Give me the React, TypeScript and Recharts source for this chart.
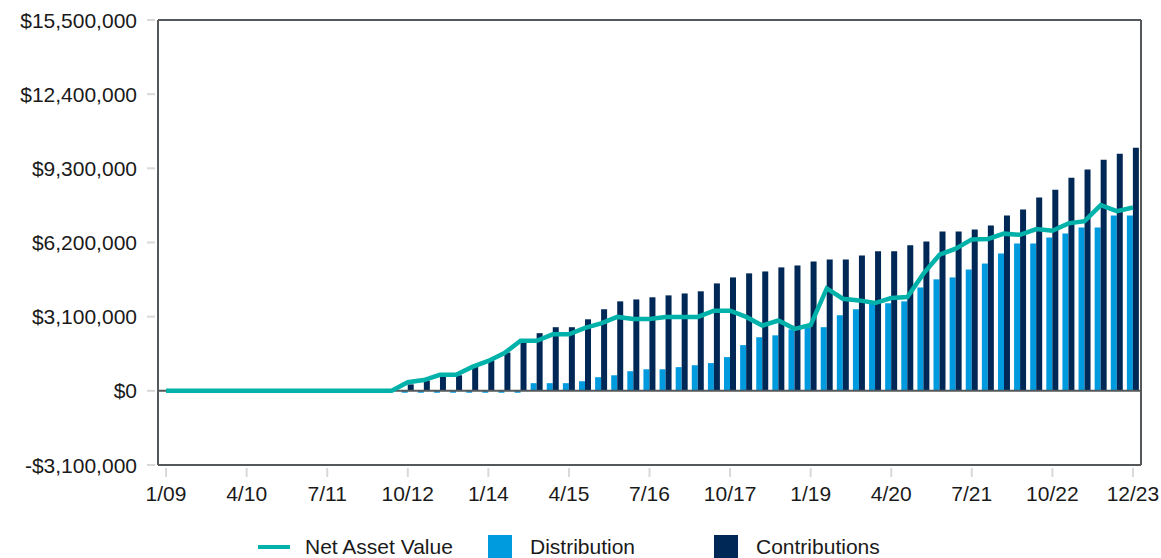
import { ComposedChart, Bar, Line, XAxis, YAxis, ReferenceLine, CartesianGrid } from 'recharts'

const quarters = [
  '1/09', '4/09', '7/09', '10/09', '1/10', '4/10', '7/10', '10/10',
  '1/11', '4/11', '7/11', '10/11', '1/12', '4/12', '7/12', '10/12',
  '1/13', '4/13', '7/13', '10/13', '1/14', '4/14', '7/14', '10/14',
  '1/15', '4/15', '7/15', '10/15', '1/16', '4/16', '7/16', '10/16',
  '1/17', '4/17', '7/17', '10/17', '1/18', '4/18', '7/18', '10/18',
  '1/19', '4/19', '7/19', '10/19', '1/20', '4/20', '7/20', '10/20',
  '1/21', '4/21', '7/21', '10/21', '1/22', '4/22', '7/22', '10/22',
  '1/23', '4/23', '7/23', '10/23', '12/23',
]

const netAssetValue = [
  0, 0, 0, 0, 0, 0, 0, 0,
  0, 0, 0, 0, 0, 0, 0, 360000,
  450000, 670000, 670000, 1000000, 1250000, 1580000, 2090000, 2090000,
  2360000, 2360000, 2630000, 2820000, 3090000, 3000000, 3000000, 3090000,
  3090000, 3090000, 3350000, 3350000, 3090000, 2730000, 2940000, 2590000,
  2750000, 4280000, 3850000, 3780000, 3670000, 3880000, 3920000, 4900000,
  5690000, 5940000, 6330000, 6350000, 6570000, 6520000, 6760000, 6690000,
  7000000, 7090000, 7760000, 7510000, 7660000,
]

const distribution = [
  0, 0, 0, 0, 0, 0, 0, 0,
  0, 0, 0, 0, 0, 0, 0, -80000,
  -80000, -80000, -80000, -80000, -80000, -80000, -80000, 320000,
  320000, 320000, 400000, 570000, 650000, 820000, 900000, 900000,
  990000, 1070000, 1160000, 1410000, 1910000, 2240000, 2320000, 2570000,
  2660000, 2660000, 3160000, 3410000, 3660000, 3660000, 3740000, 4320000,
  4660000, 4740000, 5070000, 5320000, 5740000, 6160000, 6160000, 6410000,
  6580000, 6830000, 6830000, 7330000, 7330000,
]

const contributions = [
  0, 0, 0, 0, 0, 0, 0, 0,
  0, 0, 0, 0, 0, 0, 50000, 270000,
  430000, 650000, 650000, 1020000, 1270000, 1600000, 2020000, 2410000,
  2660000, 2660000, 2990000, 3410000, 3740000, 3820000, 3910000, 3990000,
  4070000, 4160000, 4490000, 4740000, 4910000, 4990000, 5160000, 5240000,
  5410000, 5490000, 5490000, 5660000, 5830000, 5830000, 6080000, 6240000,
  6660000, 6660000, 6740000, 6910000, 7330000, 7580000, 8080000, 8410000,
  8910000, 9250000, 9660000, 9910000, 10160000,
]

const yTicks = [-3100000, 0, 3100000, 6200000, 9300000, 12400000, 15500000]

const data = quarters.map((quarter, i) => ({
  quarter,
  nav: netAssetValue[i],
  distribution: distribution[i],
  contributions: contributions[i],
}))

const NAV_COLOR = '#00b2a9'
const DIST_COLOR = '#009ade'
const CONTRIB_COLOR = '#002856'
const FRAME = '#54585a'
const TICK = '#d9d9d9'
const TEXT = '#1a1a1a'
const FONT_SIZE = 21

const money = (v: number) =>
  (v < 0 ? '-$' : '$') + Math.abs(v).toLocaleString('en-US')

const YTick = ({ x, y, payload }: any) => (
  <g>
    <line x1={x - 11} x2={x - 3} y1={y} y2={y} stroke={TICK} strokeWidth={2} />
    <text x={x - 21} y={y} textAnchor="end" dominantBaseline="central" fontSize={FONT_SIZE} fill={TEXT}>
      {money(payload.value)}
    </text>
  </g>
)

const XTick = ({ x, y, payload }: any) => (
  <g>
    <line x1={x} x2={x} y1={y + 3} y2={y + 12} stroke={TICK} strokeWidth={2} />
    <text x={x} y={y + 28} textAnchor="middle" dominantBaseline="central" fontSize={FONT_SIZE} fill={TEXT}>
      {payload.value}
    </text>
  </g>
)

const legendItems = [
  { label: 'Net Asset Value', color: NAV_COLOR, kind: 'line', width: 230 },
  { label: 'Distribution', color: DIST_COLOR, kind: 'square', width: 226 },
  { label: 'Contributions', color: CONTRIB_COLOR, kind: 'square', width: 200 },
]

export default function App() {
  return (
    <div
      style={{
        position: 'relative',
        boxSizing: 'border-box',
        width: 1161,
        height: 558,
        padding: '8px 0 0 8px',
        overflow: 'hidden',
        fontFamily: '"Liberation Sans", Arial, sans-serif',
      }}
    >
      <style>{'html,body{margin:0;overflow:hidden} .recharts-surface{overflow:visible}'}</style>
      <ComposedChart
        width={1153}
        height={520}
        data={data}
        barGap={0}
        margin={{ top: 12, right: 20, bottom: 23, left: 0 }}
      >
        {/* frame around the plot: only the outer edges */}
        <CartesianGrid
          stroke={FRAME}
          strokeWidth={2}
          fill="none"
          horizontalCoordinatesGenerator={({ offset }: any) => [offset.top, offset.top + offset.height]}
          verticalCoordinatesGenerator={({ offset }: any) => [offset.left, offset.left + offset.width]}
        />
        <XAxis
          dataKey="quarter"
          interval={4}
          tickSize={0}
          tickMargin={0}
          height={40}
          tick={<XTick />}
          tickLine={false}
          axisLine={{ stroke: FRAME, strokeWidth: 2 }}
        />
        <YAxis
          width={150}
          domain={[-3100000, 15500000]}
          ticks={yTicks}
          interval={0}
          tickSize={0}
          tickMargin={0}
          tick={<YTick />}
          tickLine={false}
          axisLine={{ stroke: FRAME, strokeWidth: 2 }}
        />
        <ReferenceLine y={0} stroke={FRAME} strokeWidth={2} />
        <Bar dataKey="distribution" name="Distribution" fill={DIST_COLOR} barSize={6} isAnimationActive={false} />
        <Bar dataKey="contributions" name="Contributions" fill={CONTRIB_COLOR} barSize={6} isAnimationActive={false} />
        <Line
          type="linear"
          dataKey="nav"
          name="Net Asset Value"
          stroke={NAV_COLOR}
          strokeWidth={4.5}
          dot={false}
          isAnimationActive={false}
        />
      </ComposedChart>
      <div
        style={{
          position: 'absolute',
          top: 535,
          left: 258,
          display: 'flex',
          alignItems: 'center',
          height: 24,
          fontSize: FONT_SIZE,
          color: TEXT,
        }}
      >
        {legendItems.map((item) => (
          <div key={item.label} style={{ display: 'flex', alignItems: 'center', width: item.width }}>
            {item.kind === 'line' ? (
              <span style={{ display: 'inline-block', width: 32, height: 4, background: item.color, marginRight: 15 }} />
            ) : (
              <span style={{ display: 'inline-block', width: 24, height: 24, background: item.color, marginRight: 18 }} />
            )}
            <span style={{ whiteSpace: 'nowrap' }}>{item.label}</span>
          </div>
        ))}
      </div>
    </div>
  )
}
